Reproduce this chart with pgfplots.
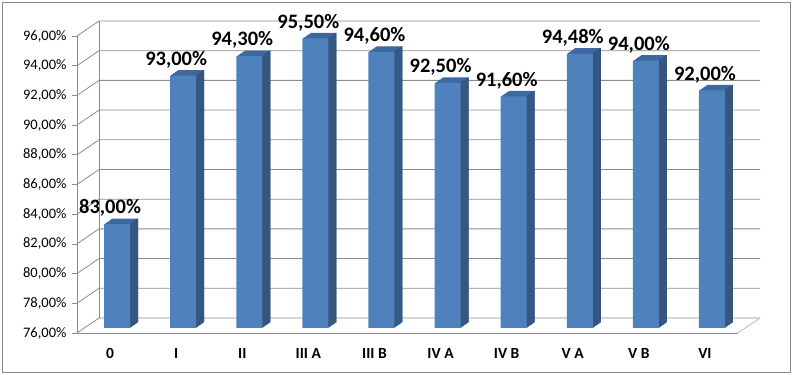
\documentclass[border=0pt]{standalone}
\usepackage{pgfplots}
\pgfplotsset{compat=1.18}
\usepackage{pgfplotstable}
\usepackage{fontspec}
\setmainfont{Carlito}
\definecolor{barfront}{HTML}{4F81BD}
\definecolor{bartop}{HTML}{3D69A1}
\definecolor{barside}{HTML}{34567F}
\definecolor{gridc}{HTML}{8C8C8C}
\definecolor{framec}{HTML}{8A8A8A}

\pgfplotstableread{
x y
0 83.00
1 93.00
2 94.30
3 95.50
4 94.60
5 92.50
6 91.60
7 94.48
8 94.00
9 92.00
}\datatable

% #1 = bar shift, #2 = yshift
\newcommand\topcopy[2]{\addplot[ybar, bar width=26pt, bar shift=#1, yshift=#2, fill=bartop, draw=none] table[x=x,y expr=\thisrow{y}-76] {\datatable};}
\newcommand\sidecopy[2]{\addplot[ybar, bar width=1.2pt, bar shift=#1, yshift=#2, fill=barside, draw=none] table[x=x,y expr=\thisrow{y}-76] {\datatable};}

\begin{document}
\begin{tikzpicture}
\begin{axis}[
  at={(77pt,42pt)}, anchor=south west,
  scale only axis, width=661pt, height=297pt,
  xmin=-0.5, xmax=9.5, ymin=0, ymax=20,
  clip=false,
  /pgf/number format/assume math mode=true,
  axis x line*=bottom, axis y line*=left,
  axis line style={gridc, line width=0.8pt},
  tick align=outside,
  ytick={0,2,...,20},
  yticklabels={{76,00\%},{78,00\%},{80,00\%},{82,00\%},{84,00\%},{86,00\%},{88,00\%},{90,00\%},{92,00\%},{94,00\%},{96,00\%}},
  ytick style={gridc, line width=0.8pt},
  major tick length=5pt,
  yticklabel style={font=\fontsize{14.5}{16}\selectfont, xshift=-2pt},
  xtick={0,...,9},
  xticklabels={0,I,II,III A,III B,IV A,IV B,V A,V B,VI},
  xticklabel style={font=\fontsize{15.5}{17}\selectfont\bfseries, yshift=-7pt},
  x tick style={draw=none},
  minor xtick={-0.5,0.5,...,9.5},
  minor x tick style={gridc, line width=0.8pt},
  minor tick length=7pt,
]
% back wall and side wall
\pgfplotsinvokeforeach{0,2,...,20}{
  \draw[gridc, line width=0.8pt] (axis cs:-0.5,#1) -- ([xshift=22pt,yshift=15pt]axis cs:-0.5,#1) -- ([xshift=22pt,yshift=15pt]axis cs:9.5,#1);
}
\draw[gridc, line width=0.8pt] ([xshift=22pt,yshift=15pt]axis cs:-0.5,0) -- ([xshift=22pt,yshift=15pt]axis cs:-0.5,20);
\draw[gridc!60, line width=0.8pt] (axis cs:9.5,0) -- ([xshift=22pt,yshift=15pt]axis cs:9.5,0);
% bars: top and side faces
\topcopy{8pt}{5.69pt}\topcopy{9pt}{6.38pt}\topcopy{10pt}{7.07pt}\topcopy{11pt}{7.76pt}
\topcopy{12pt}{8.45pt}\topcopy{13pt}{9.14pt}\topcopy{14pt}{9.83pt}\topcopy{15pt}{10.52pt}
\sidecopy{20.4pt}{5.69pt}\sidecopy{21.4pt}{6.38pt}\sidecopy{22.4pt}{7.07pt}\sidecopy{23.4pt}{7.76pt}
\sidecopy{24.4pt}{8.45pt}\sidecopy{25.4pt}{9.14pt}\sidecopy{26.4pt}{9.83pt}\sidecopy{27.4pt}{10.52pt}
% front faces
\addplot[ybar, bar width=26pt, bar shift=7pt, yshift=5pt, fill=barfront, draw=none,
  point meta=explicit,
  nodes near coords={\pgfmathprintnumber[fixed,fixed zerofill,precision=2,use comma,assume math mode=true]{\pgfplotspointmeta}\%},
  every node near coord/.append style={anchor=south, yshift=4pt, xshift=0pt, text=black, font=\fontsize{20.5}{22}\selectfont\bfseries}]
  table[x=x,y expr=\thisrow{y}-76, meta=y] {\datatable};
\end{axis}
\draw[framec, line width=0.8pt] (2pt,3pt) rectangle (790pt,373pt);
\path[use as bounding box] (0,0) rectangle (793pt,375pt);
\end{tikzpicture}
\end{document}
